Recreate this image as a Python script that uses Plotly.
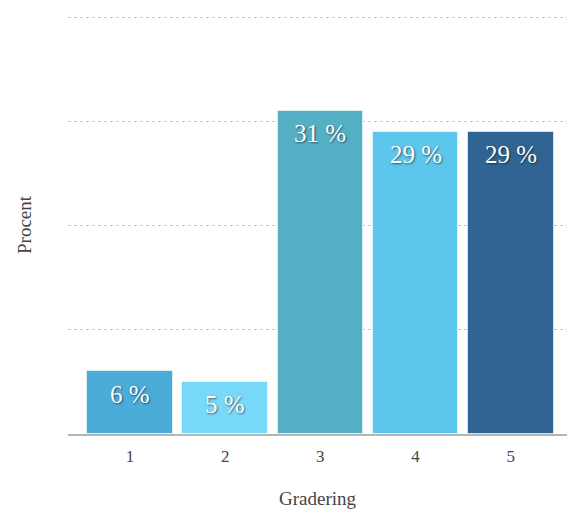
import plotly.graph_objects as go

# Survey results: share of answers per grade
grades = ["1", "2", "3", "4", "5"]
percent = [6, 5, 31, 29, 29]
bar_colors = ["#4cacd9", "#78d8f8", "#55afc5", "#5cc6ec", "#306593"]
y_ticks = [0, 10, 20, 30, 40]

serif = "Liberation Serif, Times New Roman, serif"
x_pos = list(range(1, len(grades) + 1))

fig = go.Figure(
    go.Bar(
        x=x_pos,
        y=percent,
        width=0.9,
        marker=dict(color=bar_colors, line=dict(color="rgba(255,255,255,0.6)", width=1)),
        hoverinfo="skip",
    )
)

# value labels placed just under each bar top
for xv, val in zip(x_pos, percent):
    fig.add_annotation(
        x=xv, y=val, xref="x", yref="y",
        text=f"{val} %", showarrow=False, yshift=-23,
        font=dict(family=serif, size=25, color="white",
                  shadow="1px 1px 2px rgba(0,0,0,0.55)"),
    )

fig.add_annotation(
    x=0.5, y=-0.15, xref="paper", yref="paper", yanchor="middle", yshift=-2,
    text="Gradering", showarrow=False,
    font=dict(family=serif, size=19, color="#444"),
)
fig.add_annotation(
    x=-44 / 499, y=0.5, xref="paper", yref="paper", xanchor="center",
    text="Procent", showarrow=False, textangle=-90,
    font=dict(family=serif, size=19, color="#444"),
)

fig.update_layout(
    width=567, height=512,
    margin=dict(l=68, r=0, t=16, b=78),
    paper_bgcolor="white", plot_bgcolor="white",
    showlegend=False,
    bargap=0,
    xaxis=dict(
        range=[0.35, 5.59],
        tickmode="array", tickvals=x_pos, ticktext=grades,
        showgrid=False, zeroline=False,
        showline=True, linecolor="#b5b5b5", linewidth=2,
        ticks="", ticklabelstandoff=6,
        tickfont=dict(family=serif, size=17, color="#444"),
        fixedrange=True,
    ),
    yaxis=dict(
        range=[0, 40.1],
        tickvals=y_ticks, showticklabels=False,
        showgrid=True, gridcolor="#c8c8c8", gridwidth=1, griddash="dot",
        zeroline=False, fixedrange=True,
    ),
)

fig.write_html("out.html")
